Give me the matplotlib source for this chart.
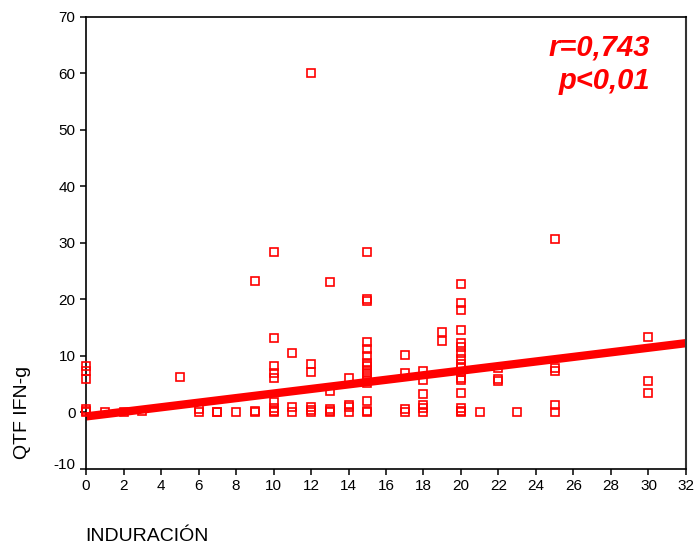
# QTF IFN-g vs induracion scatter with fit line

import numpy as np
import matplotlib.pyplot as plt
from matplotlib.transforms import ScaledTranslation

plt.rcParams['font.family'] = ['Liberation Sans', 'DejaVu Sans']
plt.rcParams['axes.unicode_minus'] = False

# induracion (mm) and QTF IFN-g
induracion = [0, 0, 0, 0, 0, 0,
              1, 2, 3, 5, 6, 6, 7, 7, 8,
              9, 9, 9,
              10, 10, 10, 10, 10, 10, 10, 10, 10,
              11, 11, 11,
              12, 12, 12, 12, 12, 12,
              13, 13, 13, 13, 13,
              14, 14, 14, 14,
              15, 15, 15, 15, 15, 15, 15, 15, 15, 15, 15, 15, 15, 15, 15, 15,
              17, 17, 17, 17,
              18, 18, 18, 18, 18, 18,
              19, 19,
              20, 20, 20, 20, 20, 20, 20, 20, 20, 20, 20, 20, 20, 20, 20, 20, 20,
              21, 22, 22, 22, 23,
              25, 25, 25, 25, 25,
              30, 30, 30]
qtf = [8.3, 7.3, 6.0, 0.7, 0.3, 0.0,
       0.0, 0.0, 0.2, 6.2, 0.6, 0.0, 0.0, 0.1, 0.0,
       23.2, 0.2, 0.0,
       28.3, 13.1, 8.2, 7.0, 6.1, 1.9, 0.8, 0.2, 0.0,
       10.5, 0.9, 0.0,
       60.0, 8.5, 7.2, 0.9, 0.4, 0.0,
       23.0, 3.8, 0.6, 0.2, 0.0,
       6.1, 1.4, 0.9, 0.0,
       28.3, 20.0, 19.8, 12.4, 11.2, 10.0, 8.8, 8.2, 7.6, 7.0, 6.4, 5.8, 5.2, 2.1, 0.2, 0.0,
       10.2, 7.0, 0.6, 0.1,
       7.3, 5.7, 3.3, 1.4, 0.8, 0.0,
       14.3, 12.6,
       22.7, 19.3, 18.2, 14.5, 12.3, 11.5, 10.5, 9.5, 8.6, 7.9, 7.1, 6.1, 5.8, 3.5, 0.8, 0.3, 0.0,
       0.0, 7.8, 5.9, 5.6, 0.1,
       30.6, 7.9, 7.4, 1.4, 0.0,
       13.4, 5.6, 3.5]

# fitted line
intercept = -0.7
slope = 0.405

xticks = list(range(0, 33, 2))
yticks = list(range(-10, 71, 10))

fig = plt.figure(figsize=(6.96, 5.46), dpi=100)
ax = fig.add_axes([0.1236, 0.141, 0.862, 0.8284])

line_x = np.array([0, 32])
ax.plot(line_x, intercept + slope * line_x, color='#ff0000', lw=6,
        solid_capstyle='butt', zorder=2)
ax.plot(induracion, qtf, linestyle='none', marker='s', ms=5.3,
        mfc='none', mec='#ff0000', mew=1.2, zorder=3, clip_on=False)

ax.set_xlim(0, 32)
ax.set_ylim(-10, 70)
ax.set_xticks(xticks)
ax.set_yticks(yticks)
ax.tick_params(labelsize=11, direction='out', length=4, width=1.1,
               colors='black')

# SPSS puts the lowest y label a bit above the corner
lab = ax.get_yticklabels()[0]
lab.set_transform(lab.get_transform() +
                  ScaledTranslation(0, 6 / 100, fig.dpi_scale_trans))

for s in ['left', 'bottom', 'top']:
    ax.spines[s].set_linewidth(1.2)
ax.spines['right'].set_color('#333333')
ax.spines['right'].set_linewidth(1.5)

fig.text(0.123, 0.0165, 'INDURACIÓN', fontsize=14, ha='left', va='center')
fig.text(0.032, 0.245, 'QTF IFN-g', fontsize=14, rotation=90,
         ha='center', va='center')

ax.text(0.94, 0.962, 'r=0,743\np<0,01', transform=ax.transAxes,
        ha='right', va='top', color='#ff0000', fontsize=21,
        fontweight='bold', fontstyle='italic', linespacing=1.22)

fig.savefig('out.png', dpi=100)
